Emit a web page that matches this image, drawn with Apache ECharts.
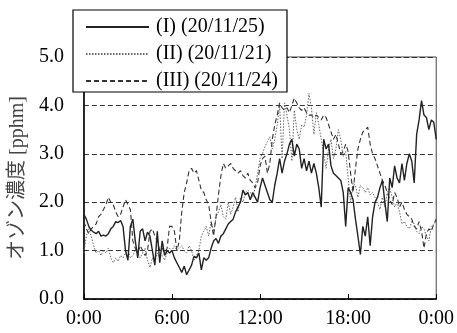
<!DOCTYPE html>
<html>
<head>
<meta charset="utf-8">
<script src="https://cdn.jsdelivr.net/npm/echarts@6/dist/echarts.min.js"></script>
<style>
html,body{margin:0;padding:0;background:#fff;}
#chart{width:457px;height:333px;}
</style>
</head>
<body>
<div id="chart"></div>
<script>
// 10-minute samples, 0:00 .. 24:00 (145 points)
var timeLabels = [];
for (var h = 0; h <= 24; h++) { for (var m = 0; m < 60; m += 10) { if (h === 24 && m > 0) break; timeLabels.push((h % 24) + ':' + (m < 10 ? '0' + m : m)); } }

var seriesNames = ['(I) (20/11/25)', '(II) (20/11/21)', '(III) (20/11/24)'];

var valuesI = [
1.75,1.65,1.5,1.42,1.38,1.35,1.4,1.3,1.32,1.3,1.35,1.45,1.5,1.6,1.58,1.62,1.5,1.0,0.8,1.5,
1.65,1.2,0.85,1.4,1.45,1.2,1.38,1.3,1.0,0.7,1.4,0.75,1.2,0.9,1.0,0.95,1.0,0.85,0.75,0.65,
0.55,0.68,0.5,0.6,0.7,0.88,0.85,0.95,0.6,0.85,0.8,0.85,1.05,1.2,1.25,1.15,1.3,1.35,1.45,1.55,
1.6,1.65,1.8,1.9,2.0,2.25,2.15,2.2,2.05,2.2,2.1,2.0,2.3,2.5,2.35,2.2,2.05,2.0,2.35,2.6,
2.9,2.6,2.85,3.0,3.2,3.3,2.95,3.2,3.1,2.7,2.9,2.65,2.85,2.6,2.8,2.6,2.3,1.9,3.3,3.1,
3.2,2.75,2.6,2.55,2.5,2.45,2.2,1.5,2.3,2.2,2.05,1.65,1.3,0.92,1.5,1.3,1.7,1.1,1.7,2.0,
2.1,2.3,2.45,2.0,1.6,2.5,2.3,2.75,2.5,2.4,2.8,2.45,2.8,3.0,2.85,2.4,3.4,3.7,4.1,3.8,
3.75,3.5,3.7,3.65,3.3
];
var valuesII = [
0.95,1.3,1.45,1.3,1.1,0.95,1.0,0.9,1.0,0.95,1.05,0.85,0.75,0.85,0.78,0.9,0.85,0.95,1.0,0.85,
0.9,1.0,0.95,0.85,0.95,1.05,0.8,0.65,0.85,0.75,0.95,0.85,0.9,0.8,0.95,1.05,1.0,1.1,1.0,1.05,
1.1,1.0,0.95,1.1,1.0,0.8,0.9,1.0,1.3,1.4,1.5,1.3,1.6,1.4,1.7,1.8,1.95,1.7,1.65,2.0,
1.75,1.9,2.1,1.8,2.1,2.0,2.2,2.25,2.2,2.1,2.3,2.6,2.9,3.0,3.15,3.25,3.35,3.1,3.3,3.6,
4.0,2.9,4.05,3.8,3.5,2.85,3.9,3.5,3.3,3.6,3.55,3.8,4.25,3.95,3.4,3.85,3.6,3.3,3.0,2.7,
3.1,3.3,2.9,3.1,3.5,3.3,2.95,3.05,2.5,2.0,2.4,2.35,2.1,2.35,2.3,2.2,2.3,2.15,2.2,2.1,
2.0,1.85,2.1,1.9,2.2,2.3,2.1,1.9,2.0,1.8,1.55,1.6,1.5,1.45,1.6,1.55,1.4,1.35,1.5,1.45,
1.3,1.2,1.5,1.55,1.6
];
var valuesIII = [
1.6,1.45,1.35,1.45,1.5,1.55,1.7,1.75,1.85,1.95,2.1,2.0,1.95,1.8,1.7,1.75,1.9,2.05,1.95,1.85,
1.2,1.05,0.95,1.1,1.0,0.9,1.0,1.4,1.45,1.3,1.2,1.0,1.05,0.95,1.05,1.5,1.5,1.4,1.0,1.2,
1.8,2.2,2.4,2.65,2.7,2.6,2.65,2.45,2.25,2.2,2.05,1.95,1.6,1.3,1.7,2.15,2.55,2.8,2.7,2.75,
2.8,2.7,2.65,2.6,2.65,2.55,2.5,2.6,2.45,2.4,2.3,2.4,2.75,2.9,2.95,2.6,2.8,3.3,3.6,3.8,
4.05,3.95,3.9,3.95,3.85,4.0,4.15,4.05,3.95,3.9,3.95,3.85,3.8,3.8,3.75,3.8,3.75,3.7,3.8,3.75,
3.6,3.45,3.3,3.4,3.2,3.0,3.05,3.2,3.05,2.6,2.2,2.7,3.1,3.3,3.45,3.5,3.55,3.2,3.0,2.9,
2.75,2.6,2.45,2.35,2.2,2.05,1.95,2.2,2.1,1.9,2.0,1.85,1.75,1.7,1.65,1.5,1.45,1.6,1.4,1.05,
1.35,1.45,1.4,1.55,1.65
];

var serifFont = '"Liberation Serif", "Times New Roman", serif';
var chart = echarts.init(document.getElementById('chart'), null, {renderer: 'canvas'});
chart.setOption({
  animation: false,
  backgroundColor: '#fff',
  grid: {left: 80, right: 17, top: 57, bottom: 34, show: true, borderColor: '#444', borderWidth: 1, backgroundColor: 'transparent'},
  legend: {
    orient: 'vertical', left: 73, top: 10,
    data: seriesNames,
    backgroundColor: '#fff', borderColor: '#000', borderWidth: 1.2,
    padding: [7, 9, 1, 12], itemGap: 7, itemWidth: 63, itemHeight: 20,
    itemStyle: {opacity: 0},
    textStyle: {fontFamily: serifFont, fontSize: 20, color: '#000', padding: [0, 0, 0, 2]},
    z: 10
  },
  xAxis: {
    type: 'category', data: timeLabels, boundaryGap: false,
    axisLine: {lineStyle: {color: '#000', width: 1.5}},
    axisTick: {inside: true, length: 5, interval: 35, lineStyle: {color: '#000', width: 1}},
    axisLabel: {interval: 35, margin: 10, fontFamily: serifFont, fontSize: 20, color: '#000'},
    splitLine: {show: false}
  },
  yAxis: {
    type: 'value', min: 0, max: 5, interval: 1,
    name: 'オゾン濃度 [pphm]', nameLocation: 'middle', nameGap: 52, nameRotate: 90,
    nameTextStyle: {fontFamily: '"Liberation Serif", "Noto Sans CJK JP", serif', fontSize: 20, color: '#444'},
    axisLine: {show: true, lineStyle: {color: '#000', width: 1.5}},
    axisTick: {show: false},
    axisLabel: {margin: 20, fontFamily: serifFont, fontSize: 20, color: '#000', formatter: function (v) { return v.toFixed(1); }},
    splitLine: {show: true, lineStyle: {color: '#333', width: 1, type: [5, 3]}}
  },
  series: [
    {name: seriesNames[0], type: 'line', data: valuesI, symbol: 'none', z: 5,
     lineStyle: {color: '#222', width: 1.4, type: 'solid'}, itemStyle: {color: '#222'}},
    {name: seriesNames[1], type: 'line', data: valuesII, symbol: 'none', z: 3,
     lineStyle: {color: '#666', width: 1, type: [1.5, 1.5]}, itemStyle: {color: '#666'}},
    {name: seriesNames[2], type: 'line', data: valuesIII, symbol: 'none', z: 4,
     lineStyle: {color: '#333', width: 1.1, type: [5, 3]}, itemStyle: {color: '#333'}}
  ]
});
</script>
</body>
</html>
